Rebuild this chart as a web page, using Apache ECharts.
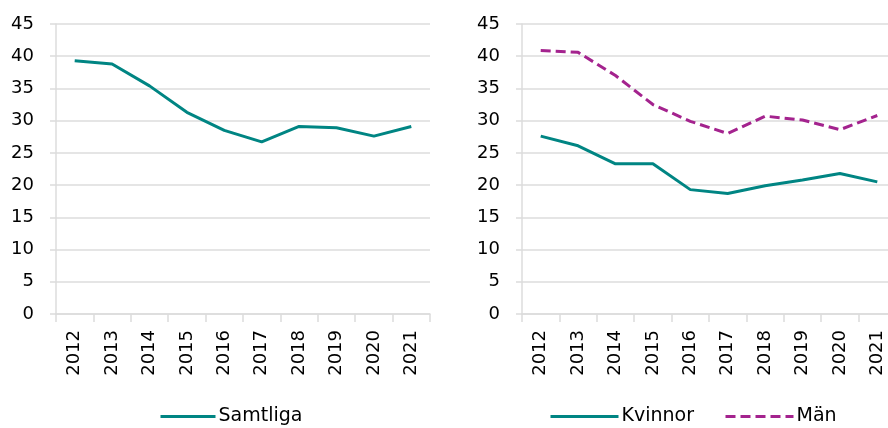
<!DOCTYPE html>
<html>
<head>
<meta charset="utf-8">
<script src="https://cdn.jsdelivr.net/npm/echarts@6/dist/echarts.min.js"></script>
<style>
  html, body { margin: 0; padding: 0; background: #fff; }
  #chart { width: 888px; height: 428px; }
</style>
</head>
<body>
<div id="chart"></div>
<script>
const years = ['2012', '2013', '2014', '2015', '2016', '2017', '2018', '2019', '2020', '2021']
const samtliga = [39.3, 38.8, 35.4, 31.3, 28.5, 26.7, 29.1, 28.9, 27.6, 29.1]
const kvinnor = [27.6, 26.1, 23.3, 23.3, 19.3, 18.7, 19.9, 20.8, 21.8, 20.5]
const man = [40.9, 40.6, 37.0, 32.5, 29.9, 28.0, 30.7, 30.1, 28.6, 30.8]

const teal = '#008583'
const purple = '#A4238E'
const font = "'DejaVu Sans', sans-serif"
const gray = '#DCDCDC'

const xAxisBase = {
  type: 'category',
  data: years,
  boundaryGap: true,
  axisLine: { lineStyle: { color: gray, width: 1.5 } },
  axisTick: { show: true, length: 8, lineStyle: { color: gray, width: 1.5 } },
  axisLabel: { rotate: 90, margin: 16, color: '#000', fontSize: 18, fontFamily: font, interval: 0 }
}

const yAxisBase = {
  type: 'value',
  min: 0,
  max: 45,
  interval: 5,
  axisLine: { show: true, lineStyle: { color: gray, width: 1.5 } },
  axisTick: { show: true, length: 6, lineStyle: { color: gray, width: 1.5 } },
  splitLine: { lineStyle: { color: gray, width: 1.5 } },
  axisLabel: { margin: 22, color: '#000', fontSize: 18, fontFamily: font }
}

const legendText = { fontSize: 19, color: '#000', fontFamily: font, padding: [0, 0, 0, -2] }

const chart = echarts.init(document.getElementById('chart'))
chart.setOption({
  animation: false,
  textStyle: { fontFamily: font },
  grid: [
    { left: 56, top: 24, width: 374, height: 290, outerBoundsMode: 'none' },
    { left: 522, top: 24, width: 374, height: 290, outerBoundsMode: 'none' }
  ],
  xAxis: [
    { ...xAxisBase, gridIndex: 0 },
    { ...xAxisBase, gridIndex: 1 }
  ],
  yAxis: [
    { ...yAxisBase, gridIndex: 0 },
    { ...yAxisBase, gridIndex: 1 }
  ],
  legend: [
    {
      data: ['Samtliga'],
      left: 154, top: 402,
      itemWidth: 55, itemHeight: 14,
      itemStyle: { opacity: 0 },
      lineStyle: { width: 3 },
      textStyle: legendText
    },
    {
      data: ['Kvinnor', 'Män'],
      left: 544, top: 402,
      itemWidth: 68, itemHeight: 14, itemGap: 30,
      itemStyle: { opacity: 0 },
      lineStyle: { width: 3 },
      textStyle: legendText
    }
  ],
  series: [
    {
      name: 'Samtliga', type: 'line', data: samtliga,
      xAxisIndex: 0, yAxisIndex: 0,
      symbol: 'none', lineStyle: { color: teal, width: 3 }, itemStyle: { color: teal }
    },
    {
      name: 'Kvinnor', type: 'line', data: kvinnor,
      xAxisIndex: 1, yAxisIndex: 1,
      symbol: 'none', lineStyle: { color: teal, width: 3 }, itemStyle: { color: teal }
    },
    {
      name: 'Män', type: 'line', data: man,
      xAxisIndex: 1, yAxisIndex: 1,
      symbol: 'none', lineStyle: { color: purple, width: 3, type: [10, 5] }, itemStyle: { color: purple }
    }
  ]
})
</script>
</body>
</html>
